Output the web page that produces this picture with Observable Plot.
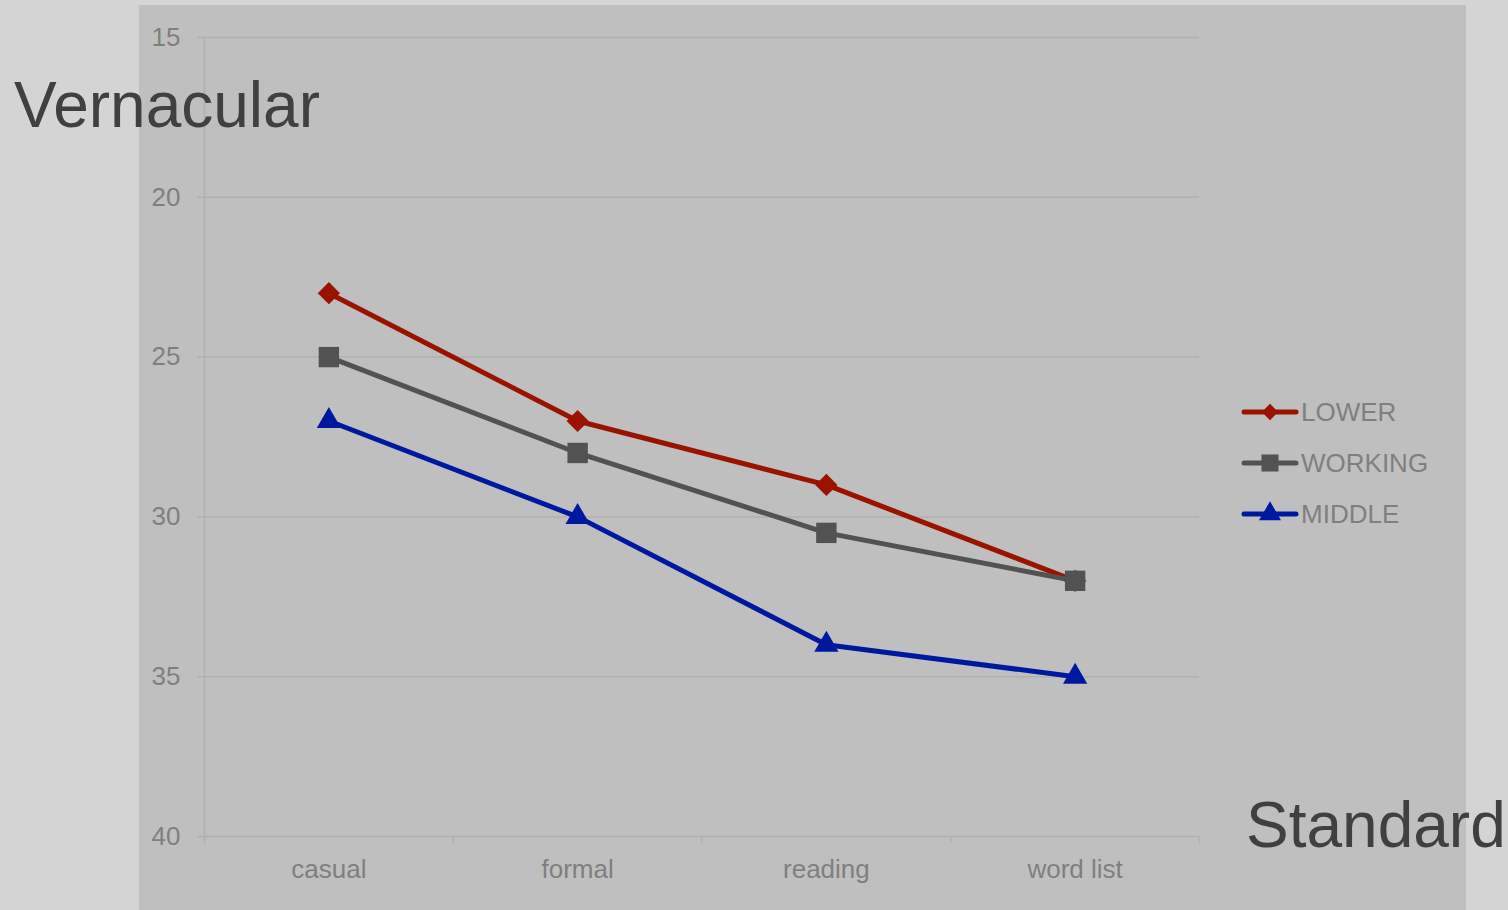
<!DOCTYPE html>
<html>
<head>
<meta charset="utf-8">
<script src="https://cdn.jsdelivr.net/npm/d3@7"></script>
<script src="https://cdn.jsdelivr.net/npm/@observablehq/plot@0.6"></script>
<style>
  html, body { margin: 0; padding: 0; background: #d4d4d4; width: 1508px; height: 910px; overflow: hidden; }
  body { position: relative; font-family: "Liberation Sans", Arial, sans-serif; }
  #panel { position: absolute; left: 139px; top: 5px; width: 1327px; height: 905px; background: #bfbfbf; }
  #chart { position: absolute; left: 0; top: 0; }
  .big { position: absolute; font-size: 64px; color: #404040; line-height: 1; white-space: nowrap; }
  #legend { position: absolute; left: 1240px; top: 397px; }
  .row { display: flex; align-items: center; height: 30px; margin-bottom: 21px; font-size: 26px; color: #7f7f7f; }
  .row svg { display: block; margin-right: 1px; }
</style>
</head>
<body>
<div id="panel"></div>
<div id="chart"></div>
<div class="big" style="left:14px; top:73px;">Vernacular</div>
<div class="big" style="left:1246px; top:793px;">Standard</div>
<div id="legend"></div>
<script>
const categories = ["casual", "formal", "reading", "word list"];
const seriesNames = ["LOWER", "WORKING", "MIDDLE"];
const lowerValues = [23, 27, 29, 32];
const workingValues = [25, 28, 30.5, 32];
const middleValues = [27, 30, 34, 35];
const seriesColors = ["#9a1200", "#525252", "#0018a0"];
const seriesSymbols = ["diamond2", "square", "triangle"];
const markerRadius = [10, 11.5, 9];
const yTicks = [15, 20, 25, 30, 35, 40];

const valuesBySeries = [lowerValues, workingValues, middleValues];
const rows = seriesNames.flatMap((s, si) =>
  valuesBySeries[si].map((v, i) => ({series: s, pos: i + 0.5, value: v}))
);

const gridColor = "#b0b0b0";

const chart = Plot.plot({
  width: 1508,
  height: 910,
  marginLeft: 204,
  marginRight: 309,
  marginTop: 37,
  marginBottom: 74,
  style: {background: "transparent", fontFamily: "'Liberation Sans', Arial, sans-serif", fontSize: "26px"},
  x: {domain: [0, categories.length], axis: null},
  y: {domain: [15, 40], reverse: true, axis: null},
  color: {domain: seriesNames, range: seriesColors},
  symbol: {domain: seriesNames, range: seriesSymbols},
  marks: [
    Plot.gridY({ticks: yTicks, stroke: gridColor, strokeOpacity: 1, strokeWidth: 1.5}),
    Plot.axisY({ticks: yTicks, label: null, tickSize: 7, tickPadding: 17, stroke: gridColor, strokeWidth: 1.5, fill: "#7f7f7f", tickFormat: d => String(d)}),
    Plot.ruleX([0], {stroke: gridColor, strokeWidth: 1.5, insetBottom: -7}),
    Plot.axisX({ticks: d3.range(categories.length + 1), label: null, tickSize: 7, stroke: gridColor, strokeWidth: 1.5, tickFormat: () => ""}),
    Plot.axisX({ticks: categories.map((c, i) => i + 0.5), label: null, tickSize: 0, tickPadding: 23, fill: "#7f7f7f", tickFormat: d => categories[Math.floor(d)]}),
    Plot.line(rows, {x: "pos", y: "value", z: "series", stroke: "series", strokeWidth: 5, strokeLinejoin: "round", strokeLinecap: "round"}),
    ...seriesNames.map((s, si) =>
      Plot.dot(rows.filter(d => d.series === s), {x: "pos", y: "value", fill: "series", symbol: "series", r: markerRadius[si], stroke: "none"})
    )
  ]
});
document.getElementById("chart").appendChild(chart);

// Legend
const legend = d3.select("#legend");
const d3Symbols = {diamond2: d3.symbolDiamond2, square: d3.symbolSquare, triangle: d3.symbolTriangle};
const legendSizes = [170, 290, 210];
seriesNames.forEach((s, si) => {
  const row = legend.append("div").attr("class", "row");
  const svg = row.append("svg").attr("width", 60).attr("height", 30);
  svg.append("line").attr("x1", 4).attr("x2", 56).attr("y1", 15).attr("y2", 15)
    .attr("stroke", seriesColors[si]).attr("stroke-width", 5).attr("stroke-linecap", "round");
  svg.append("path").attr("transform", "translate(30,15)")
    .attr("d", d3.symbol(d3Symbols[seriesSymbols[si]], legendSizes[si])())
    .attr("fill", seriesColors[si]);
  row.append("span").text(s);
});
</script>
</body>
</html>
